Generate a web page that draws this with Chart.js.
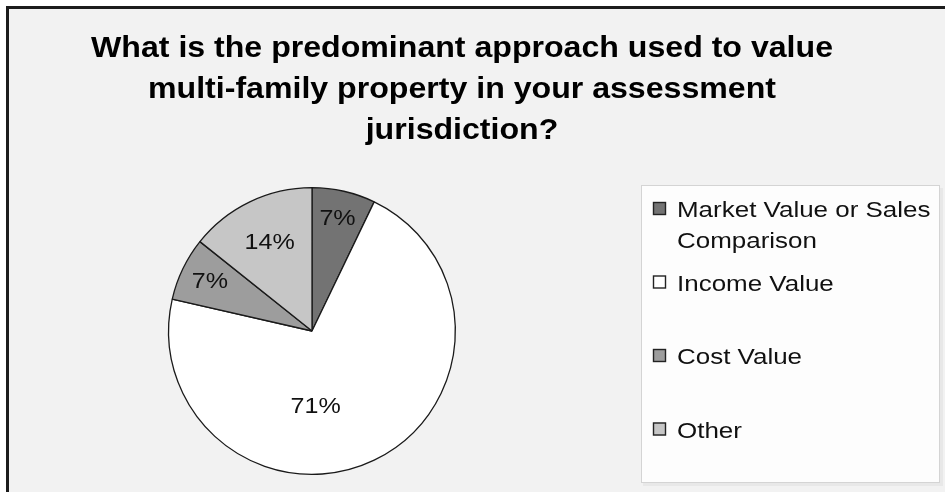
<!DOCTYPE html>
<html>
<head>
<meta charset="utf-8">
<title>Predominant approach used to value multi-family property</title>
<script src="https://cdn.jsdelivr.net/npm/chart.js@4/dist/chart.umd.min.js"></script>
<style>
  html, body { margin: 0; padding: 0; background: #ffffff; }
  #wrap { width: 945px; height: 492px; position: relative; }
</style>
</head>
<body>
<div id="wrap"><canvas id="chart"></canvas></div>
<script>
// Survey answers (number of jurisdictions per approach)
const categories = [
  'Market Value or Sales Comparison',
  'Income Value',
  'Cost Value',
  'Other'
];
const responses = [1, 10, 1, 2];
const sliceColors = ['#737373', '#ffffff', '#9d9d9d', '#c6c6c6'];
const titleLines = [
  'What is the predominant approach used to value',
  'multi-family property in your assessment',
  'jurisdiction?'
];

// Where each percentage sits inside its slice: fraction of the radius and angle shift (deg)
const labelRadius = [0.80, 0.53, 0.79, 0.68];
const labelShift = [0, 23, 0, 0];

const FONT = '"Liberation Sans", Arial, Helvetica, sans-serif';

// Text drawn with a slightly widened face
function wideText(c, text, x, y, sx) {
  c.save();
  c.translate(x, y);
  c.scale(sx, 1);
  c.fillText(text, 0, 0);
  c.restore();
}

// Page backdrop: grey chart panel with a dark frame, plus the white legend panel
const backdrop = {
  id: 'backdrop',
  beforeDraw(chart) {
    const c = chart.ctx;
    const W = chart.width, H = chart.height;
    c.save();
    c.fillStyle = '#ffffff';
    c.fillRect(0, 0, W, H);
    c.fillStyle = '#f2f2f2';
    c.fillRect(8, 8, W - 8, H - 8);
    c.fillStyle = '#1c1c1c';
    c.fillRect(6, 6, W - 6, 3);
    c.fillRect(6, 6, 3, H - 6);
    // legend panel
    c.fillStyle = 'rgba(0,0,0,0.04)';
    c.fillRect(643, 188, 300, 298);
    c.fillStyle = '#fdfdfd';
    c.fillRect(641, 185, 299, 298);
    c.strokeStyle = '#d4d4d4';
    c.lineWidth = 1;
    c.strokeRect(641.5, 185.5, 298, 297);
    c.restore();
  }
};

// Multi-line bold heading
const heading = {
  id: 'heading',
  afterDraw(chart) {
    const c = chart.ctx;
    c.save();
    c.fillStyle = '#000000';
    c.font = 'bold 30px ' + FONT;
    c.textAlign = 'center';
    c.textBaseline = 'alphabetic';
    titleLines.forEach((line, i) => wideText(c, line, 462, 57 + i * 41, 1.07));
    c.restore();
  }
};

// Percentage labels inside the slices
const sliceLabels = {
  id: 'sliceLabels',
  afterDatasetsDraw(chart) {
    const c = chart.ctx;
    const meta = chart.getDatasetMeta(0);
    const vals = chart.data.datasets[0].data;
    const total = vals.reduce((a, b) => a + b, 0);
    c.save();
    c.fillStyle = '#111111';
    c.font = '22px ' + FONT;
    c.textAlign = 'center';
    c.textBaseline = 'middle';
    meta.data.forEach((arc, i) => {
      const p = arc.getProps(['x', 'y', 'startAngle', 'endAngle', 'outerRadius'], true);
      const mid = (p.startAngle + p.endAngle) / 2 + labelShift[i] * Math.PI / 180;
      const r = p.outerRadius * labelRadius[i];
      const pct = Math.round(vals[i] / total * 100) + '%';
      wideText(c, pct, p.x + Math.cos(mid) * r, p.y + Math.sin(mid) * r, 1.14);
    });
    c.restore();
  }
};

// Legend drawn on the canvas, wrapping long names inside the panel
const sideLegend = {
  id: 'sideLegend',
  afterDraw(chart) {
    const c = chart.ctx;
    const ds = chart.data.datasets[0];
    const sx = 1.18;
    const x0 = 653, textX = 677, maxW = 258;
    const firstBaseline = 217, lineH = 31, itemStep = 73.5;
    c.save();
    c.font = '22px ' + FONT;
    c.textBaseline = 'alphabetic';
    chart.data.labels.forEach((label, i) => {
      const words = label.split(' ');
      const lines = [];
      let cur = '';
      words.forEach(w => {
        const test = cur ? cur + ' ' + w : w;
        if (c.measureText(test).width * sx > maxW && cur) { lines.push(cur); cur = w; }
        else cur = test;
      });
      lines.push(cur);
      const base = firstBaseline + i * itemStep;
      c.fillStyle = ds.backgroundColor[i];
      c.fillRect(x0, base - 15, 13, 13);
      c.strokeStyle = '#222222';
      c.lineWidth = 1.4;
      c.strokeRect(x0 + 0.5, base - 14.5, 12, 12);
      c.fillStyle = '#111111';
      lines.forEach((ln, k) => wideText(c, ln, textX, base + k * lineH, sx));
    });
    c.restore();
  }
};

Chart.defaults.font.family = FONT;

new Chart(document.getElementById('chart'), {
  type: 'pie',
  data: {
    labels: categories,
    datasets: [{
      data: responses,
      backgroundColor: sliceColors,
      borderColor: '#1a1a1a',
      borderWidth: 1.3,
      hoverOffset: 0,
      offset: 0
    }]
  },
  options: {
    responsive: true,
    maintainAspectRatio: false,
    devicePixelRatio: 1,
    animation: false,
    rotation: 0,
    layout: { padding: { left: 168, right: 489, top: 187, bottom: 17 } },
    plugins: {
      legend: { display: false },
      title: { display: false },
      tooltip: { enabled: false }
    },
    events: []
  },
  plugins: [backdrop, heading, sliceLabels, sideLegend]
});
</script>
</body>
</html>
